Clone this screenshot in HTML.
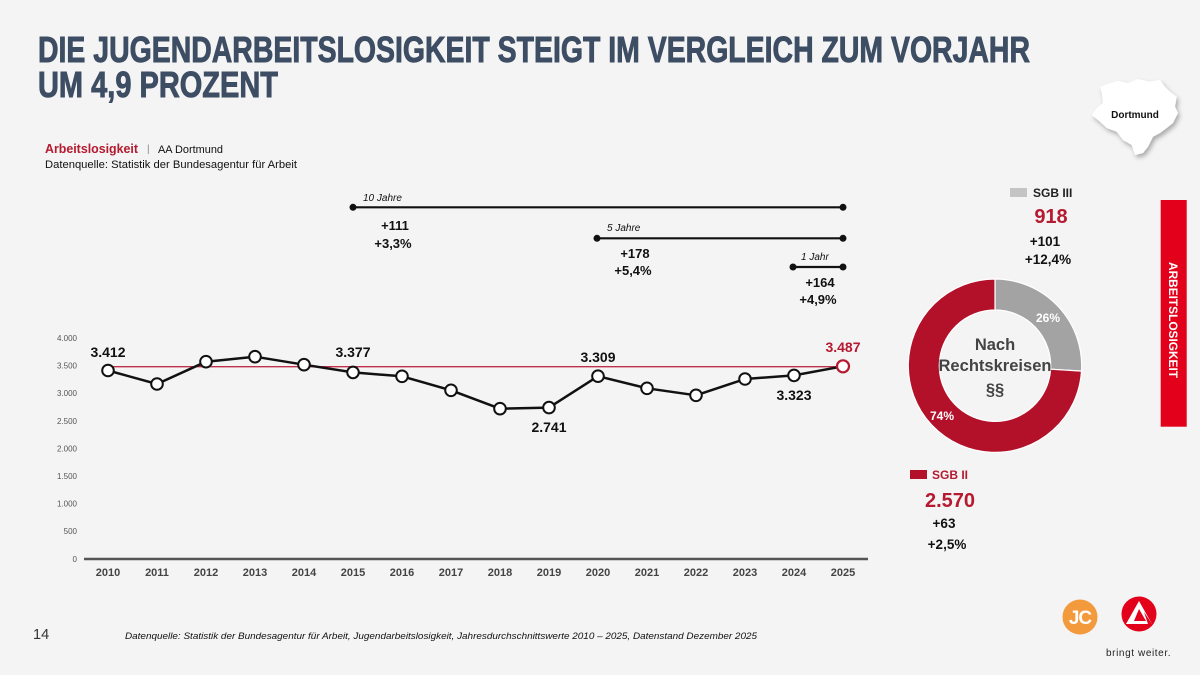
<!DOCTYPE html>
<html><head><meta charset="utf-8"><style>
html,body{margin:0;padding:0;background:#f4f4f4;}
svg{display:block;}
text{font-family:"Liberation Sans",Arial,sans-serif;}
</style></head><body>
<svg width="1200" height="675" viewBox="0 0 1200 675" xmlns="http://www.w3.org/2000/svg">
<defs>
<filter id="sh" x="-20%" y="-20%" width="150%" height="150%">
<feDropShadow dx="2" dy="3" stdDeviation="2.5" flood-color="#000" flood-opacity="0.3"/>
</filter>
</defs>
<rect width="1200" height="675" fill="#f4f4f4"/>

<!-- Title -->
<text x="38" y="62" font-size="36" font-weight="bold" fill="#3d4d63" stroke="#3d4d63" stroke-width="0.9" textLength="992" lengthAdjust="spacingAndGlyphs">DIE JUGENDARBEITSLOSIGKEIT STEIGT IM VERGLEICH ZUM VORJAHR</text>
<text x="38" y="97" font-size="36" font-weight="bold" fill="#3d4d63" stroke="#3d4d63" stroke-width="0.9" textLength="240" lengthAdjust="spacingAndGlyphs">UM 4,9 PROZENT</text>

<!-- Subtitle -->
<text x="45" y="153" font-size="13" font-weight="bold" fill="#b51a30" textLength="93" lengthAdjust="spacingAndGlyphs">Arbeitslosigkeit</text>
<text x="147" y="152" font-size="10" fill="#888">|</text>
<text x="158" y="153" font-size="11" fill="#111" textLength="65" lengthAdjust="spacingAndGlyphs">AA Dortmund</text>
<text x="45" y="168" font-size="11" fill="#111" textLength="252" lengthAdjust="spacingAndGlyphs">Datenquelle: Statistik der Bundesagentur für Arbeit</text>

<!-- Range brackets -->
<g stroke="#111" stroke-width="2.2" fill="#111">
<line x1="353" y1="207.3" x2="843" y2="207.3"/>
<circle cx="353" cy="207.3" r="3.5" stroke="none"/><circle cx="843" cy="207.3" r="3.5" stroke="none"/>
<line x1="597" y1="238.3" x2="843" y2="238.3"/>
<circle cx="597" cy="238.3" r="3.5" stroke="none"/><circle cx="843" cy="238.3" r="3.5" stroke="none"/>
<line x1="793" y1="267" x2="843" y2="267"/>
<circle cx="793" cy="267" r="3.5" stroke="none"/><circle cx="843" cy="267" r="3.5" stroke="none"/>
</g>
<g font-size="10" font-style="italic" fill="#111">
<text x="363" y="201">10 Jahre</text>
<text x="607" y="231">5 Jahre</text>
<text x="801" y="260">1 Jahr</text>
</g>
<g font-size="13" font-weight="bold" fill="#111" text-anchor="middle">
<text x="395" y="230">+111</text>
<text x="393" y="248">+3,3%</text>
<text x="635" y="258">+178</text>
<text x="633" y="275">+5,4%</text>
<text x="820" y="287">+164</text>
<text x="818" y="304">+4,9%</text>
</g>

<!-- Y axis labels -->
<g font-size="8" fill="#555" text-anchor="end">
<text x="77" y="341">4.000</text>
<text x="77" y="368.6">3.500</text>
<text x="77" y="396.2">3.000</text>
<text x="77" y="423.8">2.500</text>
<text x="77" y="451.4">2.000</text>
<text x="77" y="479">1.500</text>
<text x="77" y="506.6">1.000</text>
<text x="77" y="534.2">500</text>
<text x="77" y="562">0</text>
</g>

<!-- axis -->
<line x1="84" y1="559" x2="868" y2="559" stroke="#555" stroke-width="2.5"/>

<!-- X labels -->
<g font-size="11" font-weight="bold" fill="#444" text-anchor="middle">
<text x="108" y="576">2010</text><text x="157" y="576">2011</text><text x="206" y="576">2012</text><text x="255" y="576">2013</text>
<text x="304" y="576">2014</text><text x="353" y="576">2015</text><text x="402" y="576">2016</text><text x="451" y="576">2017</text>
<text x="500" y="576">2018</text><text x="549" y="576">2019</text><text x="598" y="576">2020</text><text x="647" y="576">2021</text>
<text x="696" y="576">2022</text><text x="745" y="576">2023</text><text x="794" y="576">2024</text><text x="843" y="576">2025</text>
</g>

<!-- reference line -->
<line x1="108" y1="366.7" x2="843" y2="366.7" stroke="#c0304a" stroke-width="1.4"/>

<!-- series -->
<polyline fill="none" stroke="#111" stroke-width="2.5" stroke-linejoin="round"
points="108,370.5 157,384 206,361.7 255,356.7 304,364.7 353,372.4 402,376.3 451,390.3 500,408.7 549,407.6 598,376.2 647,388.3 696,395.3 745,379 794,375.4 843,366.3"/>
<g fill="#fff" stroke="#111" stroke-width="2">
<circle cx="108" cy="370.5" r="5.8"/><circle cx="157" cy="384" r="5.8"/><circle cx="206" cy="361.7" r="5.8"/><circle cx="255" cy="356.7" r="5.8"/>
<circle cx="304" cy="364.7" r="5.8"/><circle cx="353" cy="372.4" r="5.8"/><circle cx="402" cy="376.3" r="5.8"/><circle cx="451" cy="390.3" r="5.8"/>
<circle cx="500" cy="408.7" r="5.8"/><circle cx="549" cy="407.6" r="5.8"/><circle cx="598" cy="376.2" r="5.8"/><circle cx="647" cy="388.3" r="5.8"/>
<circle cx="696" cy="395.3" r="5.8"/><circle cx="745" cy="379" r="5.8"/><circle cx="794" cy="375.4" r="5.8"/>
</g>
<circle cx="843" cy="366.3" r="6" fill="#fff" stroke="#b51a30" stroke-width="2.2"/>

<!-- data labels -->
<g font-size="14" font-weight="bold" fill="#111" text-anchor="middle">
<text x="108" y="357">3.412</text>
<text x="353" y="357">3.377</text>
<text x="598" y="362">3.309</text>
<text x="549" y="432">2.741</text>
<text x="794" y="400">3.323</text>
<text x="843" y="352" fill="#b51a30">3.487</text>
</g>

<!-- Donut -->
<path d="M 995 279 A 86.7 86.7 0 0 1 1081.5 371.1 L 1050.6 369.2 A 55.7 55.7 0 0 0 995 310 Z" fill="#a3a3a3" stroke="#fff" stroke-width="1.2"/>
<path d="M 1081.5 371.1 A 86.7 86.7 0 1 1 995 279 L 995 310 A 55.7 55.7 0 1 0 1050.6 369.2 Z" fill="#b3112a" stroke="#fff" stroke-width="1.2"/>
<text x="1048" y="322" font-size="12" font-weight="bold" fill="#fff" text-anchor="middle">26%</text>
<text x="942" y="420" font-size="12" font-weight="bold" fill="#fff" text-anchor="middle">74%</text>
<g font-size="16.5" font-weight="bold" fill="#444" text-anchor="middle">
<text x="995" y="350">Nach</text>
<text x="995" y="371" textLength="113" lengthAdjust="spacingAndGlyphs">Rechtskreisen</text>
<text x="995" y="395">§§</text>
</g>

<!-- Legend SGB III -->
<rect x="1010" y="188" width="17" height="9" fill="#c4c4c4"/>
<text x="1033" y="197" font-size="12" font-weight="bold" fill="#222">SGB III</text>
<text x="1051" y="223" font-size="20" font-weight="bold" fill="#b51a30" text-anchor="middle">918</text>
<text x="1045" y="246" font-size="13.5" font-weight="bold" fill="#111" text-anchor="middle">+101</text>
<text x="1048" y="264" font-size="13.5" font-weight="bold" fill="#111" text-anchor="middle">+12,4%</text>

<!-- Legend SGB II -->
<rect x="910" y="470" width="17" height="9" fill="#b3112a"/>
<text x="932" y="479" font-size="12" font-weight="bold" fill="#b51a30">SGB II</text>
<text x="950" y="507" font-size="20" font-weight="bold" fill="#b51a30" text-anchor="middle">2.570</text>
<text x="944" y="528" font-size="13.5" font-weight="bold" fill="#111" text-anchor="middle">+63</text>
<text x="947" y="549" font-size="13.5" font-weight="bold" fill="#111" text-anchor="middle">+2,5%</text>

<!-- Right red bar -->
<rect x="1160.7" y="200" width="26" height="226.7" fill="#e2001a"/>
<text transform="translate(1169,320) rotate(90)" font-size="12" font-weight="bold" fill="#fff" text-anchor="middle" textLength="116" lengthAdjust="spacingAndGlyphs">ARBEITSLOSIGKEIT</text>

<!-- Dortmund map -->
<polygon filter="url(#sh)" fill="#fff" points="1100,86.7 1110,83 1118,80.7 1128,83 1138,79 1150,81.7 1160,80 1165,86.7 1170,91.7 1176.7,96.7 1175,106.7 1178,113 1173,123 1166.7,128 1160,133 1153,136.7 1148,146.7 1143,153 1135,155 1131.7,145 1123,140 1116.7,131.7 1106.7,128 1100,121.7 1091.7,115 1096.7,108 1103,103 1101.7,93"/>
<text x="1135" y="118" font-size="10" font-weight="bold" fill="#111" text-anchor="middle">Dortmund</text>

<!-- Footer -->
<text x="33" y="639" font-size="14.5" fill="#333">14</text>
<text x="125" y="639" font-size="9.5" font-style="italic" fill="#111" textLength="632" lengthAdjust="spacingAndGlyphs">Datenquelle: Statistik der Bundesagentur für Arbeit, Jugendarbeitslosigkeit, Jahresdurchschnittswerte 2010 – 2025, Datenstand Dezember 2025</text>

<!-- Logos -->
<circle cx="1080" cy="617" r="17.5" fill="#f39a3c"/>
<text x="1080" y="624" font-size="19" font-weight="bold" fill="#fff" text-anchor="middle" letter-spacing="-1">JC</text>
<circle cx="1139" cy="614" r="17.5" fill="#e2001a"/>
<path d="M 1139 601 L 1152 624 L 1126 624 Z" fill="#fff"/>
<path d="M 1139 609 L 1146 621 L 1134 621 Z" fill="#e2001a"/>
<path d="M 1144 612 L 1152 624 L 1148 624 Z" fill="#e2001a"/>
<text x="1106" y="656" font-size="10" fill="#222" letter-spacing="0.6">bringt weiter.</text>
</svg>
</body></html>
